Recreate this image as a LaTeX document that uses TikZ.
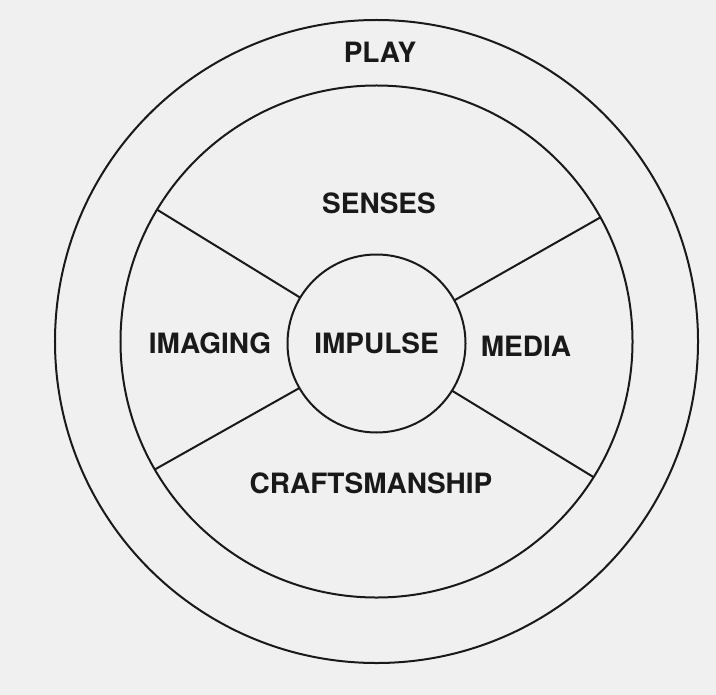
\documentclass[tikz,border=0pt]{standalone}
\usepackage{fontspec}
\setmainfont{TeX Gyre Heros}
\usetikzlibrary{positioning}

\begin{document}
\begin{tikzpicture}[
    x=1bp, y=-1bp,
    font=\fontsize{28bp}{30bp}\selectfont\bfseries,
    ring/.style={
      draw=black!90, circle, line width=2bp,
      inner sep=0pt, outer sep=0pt
    },
    tag/.style={inner sep=0pt, text=black!90},
    spoke/.style={draw=black!90, line width=2bp}
  ]

  % ===== Page =====
  \fill[black!6] (0,0) rectangle (716,695);
  \useasboundingbox (0,0) rectangle (716,695);

  % ===== Rings =====
  \coordinate (centre) at (376.5,341.5);
  \node[ring, minimum size=643bp] (playring)  at (centre) {};
  \node[ring, minimum size=512bp] (sensering) at (centre) {};
  \node[ring, minimum size=178bp, text=black!90] (impulse) at ([yshift=-2bp]centre) {IMPULSE};

  % ===== Labels =====
  \node[tag] (play)    at (380,52)  {PLAY};
  \node[tag] (senses)  at (379,203) {SENSES};
  \node[tag] (imaging) at (210,343) {IMAGING};
  \node[tag] (media)   at (526,346) {MEDIA};
  \node[tag] (craft)   at (371,483) {CRAFTSMANSHIP};

  % Spokes
  \draw[spoke] (impulse.29)  -- (sensering.29);
  \draw[spoke] (impulse.149) -- (sensering.149);
  \draw[spoke] (impulse.210) -- (sensering.210);
  \draw[spoke] (impulse.328) -- (sensering.328);
\end{tikzpicture}
\end{document}
